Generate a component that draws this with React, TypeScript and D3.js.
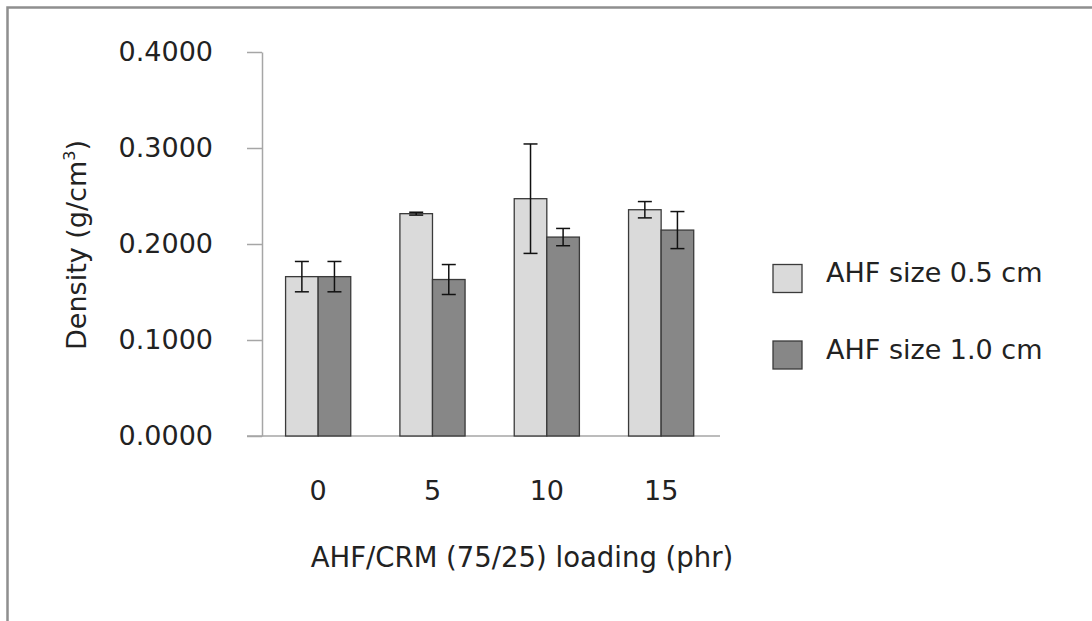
import { useEffect, useRef } from 'react';
import * as d3 from 'd3';

const categories = ['0', '5', '10', '15'];
const seriesNames = ['AHF size 0.5 cm', 'AHF size 1.0 cm'];
const size05 = [0.166, 0.2316, 0.2472, 0.2357];
const size05Err = [0.0158, 0.0015, 0.057, 0.0085];
const size10 = [0.166, 0.163, 0.2072, 0.2145];
const size10Err = [0.0158, 0.0156, 0.009, 0.0193];
const yTicks = [0, 0.1, 0.2, 0.3, 0.4];

const FONT = '"DejaVu Sans", sans-serif';

const App = () => {
  const svgRef = useRef<SVGSVGElement>(null);

  useEffect(() => {
    const W = 1092;
    const H = 621;
    const svg = d3.select(svgRef.current);
    svg.selectAll('*').remove();
    svg.attr('width', W).attr('height', H);

    svg.append('rect').attr('width', W).attr('height', H).attr('fill', '#fff');

    // marco exterior (arriba e izquierda)
    svg.append('path')
      .attr('d', `M7.5,${H} V7.5 H${W}`)
      .attr('fill', 'none')
      .attr('stroke', '#8f8f8f')
      .attr('stroke-width', 2.5);

    // escalas
    const x = d3.scaleBand<string>()
      .domain(categories)
      .range([261, 718.3])
      .paddingInner(0.43)
      .paddingOuter(0.215);

    const x1 = d3.scaleBand<number>()
      .domain([0, 1])
      .range([0, x.bandwidth()]);

    const y = d3.scaleLinear().domain([0, 0.4]).range([436, 52]);

    const axisColor = '#a6a6a6';

    // eje Y
    const yAxis = d3.axisLeft(y)
      .tickValues(yTicks)
      .tickSize(15)
      .tickSizeOuter(0)
      .tickPadding(34)
      .tickFormat(d3.format('.4f') as any);

    const gy = svg.append('g')
      .attr('transform', 'translate(262,0)')
      .call(yAxis);
    gy.select('.domain').attr('stroke', axisColor).attr('stroke-width', 1.5);
    gy.selectAll('.tick line').attr('stroke', axisColor).attr('stroke-width', 1.5);
    gy.selectAll('.tick text')
      .attr('font-family', FONT)
      .attr('font-size', 27)
      .attr('fill', '#222')
      .attr('dy', '0.3em');

    // eje X (línea base)
    svg.append('line')
      .attr('x1', 247)
      .attr('x2', 720)
      .attr('y1', y(0))
      .attr('y2', y(0))
      .attr('stroke', axisColor)
      .attr('stroke-width', 1.5);

    const series = [
      { vals: size05, errs: size05Err, fill: '#dadada' },
      { vals: size10, errs: size10Err, fill: '#878787' },
    ];

    // barras
    series.forEach((s, si) => {
      svg.append('g')
        .selectAll('rect')
        .data(categories)
        .enter()
        .append('rect')
        .attr('x', (c) => (x(c) as number) + (x1(si) as number))
        .attr('y', (c, i) => y(s.vals[i]))
        .attr('width', x1.bandwidth())
        .attr('height', (c, i) => y(0) - y(s.vals[i]))
        .attr('fill', s.fill)
        .attr('stroke', '#3a3a3a')
        .attr('stroke-width', 1.3);
    });

    // barras de error
    series.forEach((s, si) => {
      const g = svg.append('g')
        .attr('stroke', '#111')
        .attr('stroke-width', 1.5);
      categories.forEach((c, i) => {
        const cx = (x(c) as number) + (x1(si) as number) + x1.bandwidth() / 2;
        const top = y(s.vals[i] + s.errs[i]);
        const bot = y(s.vals[i] - s.errs[i]);
        g.append('line').attr('x1', cx).attr('x2', cx).attr('y1', top).attr('y2', bot);
        g.append('line').attr('x1', cx - 7).attr('x2', cx + 7).attr('y1', top).attr('y2', top);
        g.append('line').attr('x1', cx - 7).attr('x2', cx + 7).attr('y1', bot).attr('y2', bot);
      });
    });

    // etiquetas X
    svg.append('g')
      .selectAll('text')
      .data(categories)
      .enter()
      .append('text')
      .attr('x', (c) => (x(c) as number) + x.bandwidth() / 2)
      .attr('y', 500)
      .attr('text-anchor', 'middle')
      .attr('font-family', FONT)
      .attr('font-size', 27)
      .attr('fill', '#222')
      .text((c) => c);

    // título eje X
    svg.append('text')
      .attr('x', 522)
      .attr('y', 567)
      .attr('text-anchor', 'middle')
      .attr('font-family', FONT)
      .attr('font-size', 27.5)
      .attr('fill', '#222')
      .text('AHF/CRM (75/25) loading (phr)');

    // título eje Y
    const yt = svg.append('text')
      .attr('transform', 'translate(86,245) rotate(-90)')
      .attr('text-anchor', 'middle')
      .attr('font-family', FONT)
      .attr('font-size', 27)
      .attr('fill', '#222');
    yt.append('tspan').text('Density (g/cm');
    yt.append('tspan').attr('font-size', 16).attr('dy', -11).text('3');
    yt.append('tspan').attr('dy', 11).text(')');

    // leyenda
    const legendY = [278.5, 355];
    const legend = svg.append('g')
      .selectAll('g')
      .data(seriesNames)
      .enter()
      .append('g')
      .attr('transform', (d, i) => `translate(773,${legendY[i]})`);

    legend.append('rect')
      .attr('x', 0)
      .attr('y', -14)
      .attr('width', 29)
      .attr('height', 28)
      .attr('fill', (d, i) => series[i].fill)
      .attr('stroke', '#3a3a3a')
      .attr('stroke-width', 1.3);

    legend.append('text')
      .attr('x', 53)
      .attr('y', 3.5)
      .attr('font-family', FONT)
      .attr('font-size', 27)
      .attr('fill', '#222')
      .text((d) => d);
  }, []);

  return (
    <svg ref={svgRef} style={{ position: 'absolute', left: 0, top: 0 }}></svg>
  );
};

export default App;
